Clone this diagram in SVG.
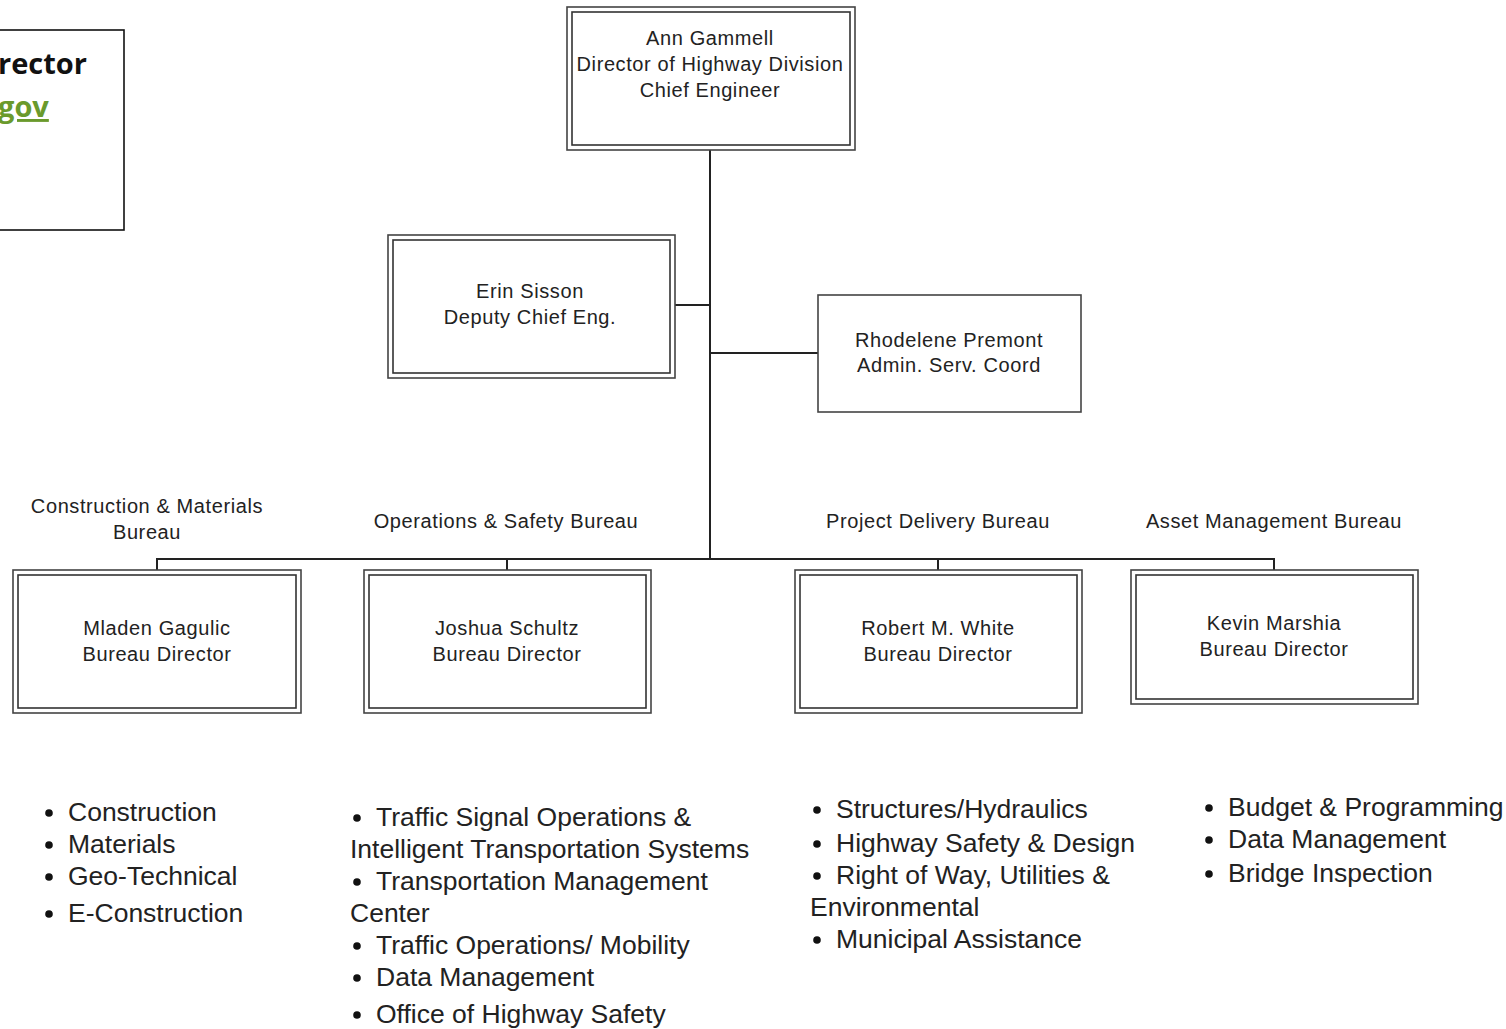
<svg xmlns="http://www.w3.org/2000/svg" width="1506" height="1029" viewBox="0 0 1506 1029">
<style>
.bg{fill:#fff}
.o{fill:#fff;stroke:#444;stroke-width:1.6}
.i{fill:none;stroke:#333;stroke-width:1.6}
.c{fill:none;stroke:#222;stroke-width:2}
.t{font-family:"Liberation Sans",Arial,sans-serif;font-size:20px;letter-spacing:0.6px;fill:#222;text-anchor:middle}
.b{font-family:"Liberation Sans",Arial,sans-serif;font-size:26.5px;fill:#222}
.d{fill:#111}
.h{font-family:"Open Sans","Liberation Sans",sans-serif;font-weight:bold;font-size:29px}
</style>
<defs>
<circle id="dot" r="3.8" class="d"/>
</defs>
<rect class="bg" x="0" y="0" width="1506" height="1029"/>
<g id="corner">
<rect x="-10" y="30" width="134" height="200" fill="#fff" stroke="#111" stroke-width="1.6"/>
<text class="h" x="-2" y="74" fill="#111">rector</text>
<text class="h" x="-2" y="117" fill="#6a9a2c" text-decoration="underline" font-size="27">gov</text>
</g>
<g id="connectors">
<path class="c" d="M710 150V558"/>
<path class="c" d="M675 305H710"/>
<path class="c" d="M710 353H818"/>
<path class="c" d="M157 570V559H1274V570"/>
<path class="c" d="M507 559V570"/>
<path class="c" d="M938 559V570"/>
</g>
<g id="ann">
<rect class="o" x="567" y="7" width="288" height="143"/>
<rect class="i" x="572" y="12" width="278" height="133"/>
<text class="t" x="710" y="45">Ann Gammell</text>
<text class="t" x="710" y="71">Director of Highway Division</text>
<text class="t" x="710" y="97">Chief Engineer</text>
</g>
<g id="erin">
<rect class="o" x="388" y="235" width="287" height="143"/>
<rect class="i" x="393" y="240" width="277" height="133"/>
<text class="t" x="530" y="298">Erin Sisson</text>
<text class="t" x="530" y="324">Deputy Chief Eng.</text>
</g>
<g id="rhodelene">
<rect class="o" x="818" y="295" width="263" height="117"/>
<text class="t" x="949" y="347">Rhodelene Premont</text>
<text class="t" x="949" y="372">Admin. Serv. Coord</text>
</g>
<g id="labels">
<text class="t" x="147" y="513">Construction &amp; Materials</text>
<text class="t" x="147" y="539">Bureau</text>
<text class="t" x="506" y="528">Operations &amp; Safety Bureau</text>
<text class="t" x="938" y="528">Project Delivery Bureau</text>
<text class="t" x="1274" y="528">Asset Management Bureau</text>
</g>
<g id="mladen">
<rect class="o" x="13" y="570" width="288" height="143"/>
<rect class="i" x="18" y="575" width="278" height="133"/>
<text class="t" x="157" y="635">Mladen Gagulic</text>
<text class="t" x="157" y="661">Bureau Director</text>
</g>
<g id="joshua">
<rect class="o" x="364" y="570" width="287" height="143"/>
<rect class="i" x="369" y="575" width="277" height="133"/>
<text class="t" x="507" y="635">Joshua Schultz</text>
<text class="t" x="507" y="661">Bureau Director</text>
</g>
<g id="robert">
<rect class="o" x="795" y="570" width="287" height="143"/>
<rect class="i" x="800" y="575" width="277" height="133"/>
<text class="t" x="938" y="635">Robert M. White</text>
<text class="t" x="938" y="661">Bureau Director</text>
</g>
<g id="kevin">
<rect class="o" x="1131" y="570" width="287" height="134"/>
<rect class="i" x="1136" y="575" width="277" height="124"/>
<text class="t" x="1274" y="630">Kevin Marshia</text>
<text class="t" x="1274" y="656">Bureau Director</text>
</g>
<g id="list-construction">
<use href="#dot" x="49" y="813"/><text class="b" x="68" y="821">Construction</text>
<use href="#dot" x="49" y="845"/><text class="b" x="68" y="853">Materials</text>
<use href="#dot" x="49" y="877"/><text class="b" x="68" y="885">Geo-Technical</text>
<use href="#dot" x="49" y="914"/><text class="b" x="68" y="922">E-Construction</text>
</g>
<g id="list-operations">
<use href="#dot" x="357" y="818"/><text class="b" x="376" y="826">Traffic Signal Operations &amp;</text>
<text class="b" x="350" y="858">Intelligent Transportation Systems</text>
<use href="#dot" x="357" y="882"/><text class="b" x="376" y="890">Transportation Management</text>
<text class="b" x="350" y="922">Center</text>
<use href="#dot" x="357" y="946"/><text class="b" x="376" y="954">Traffic Operations/ Mobility</text>
<use href="#dot" x="357" y="978"/><text class="b" x="376" y="986">Data Management</text>
<use href="#dot" x="357" y="1015"/><text class="b" x="376" y="1023">Office of Highway Safety</text>
</g>
<g id="list-project">
<use href="#dot" x="817" y="810"/><text class="b" x="836" y="818">Structures/Hydraulics</text>
<use href="#dot" x="817" y="844"/><text class="b" x="836" y="852">Highway Safety &amp; Design</text>
<use href="#dot" x="817" y="876"/><text class="b" x="836" y="884">Right of Way, Utilities &amp;</text>
<text class="b" x="810" y="916">Environmental</text>
<use href="#dot" x="817" y="940"/><text class="b" x="836" y="948">Municipal Assistance</text>
</g>
<g id="list-asset">
<use href="#dot" x="1209" y="808"/><text class="b" x="1228" y="816">Budget &amp; Programming</text>
<use href="#dot" x="1209" y="840"/><text class="b" x="1228" y="848">Data Management</text>
<use href="#dot" x="1209" y="874"/><text class="b" x="1228" y="882">Bridge Inspection</text>
</g>
</svg>
